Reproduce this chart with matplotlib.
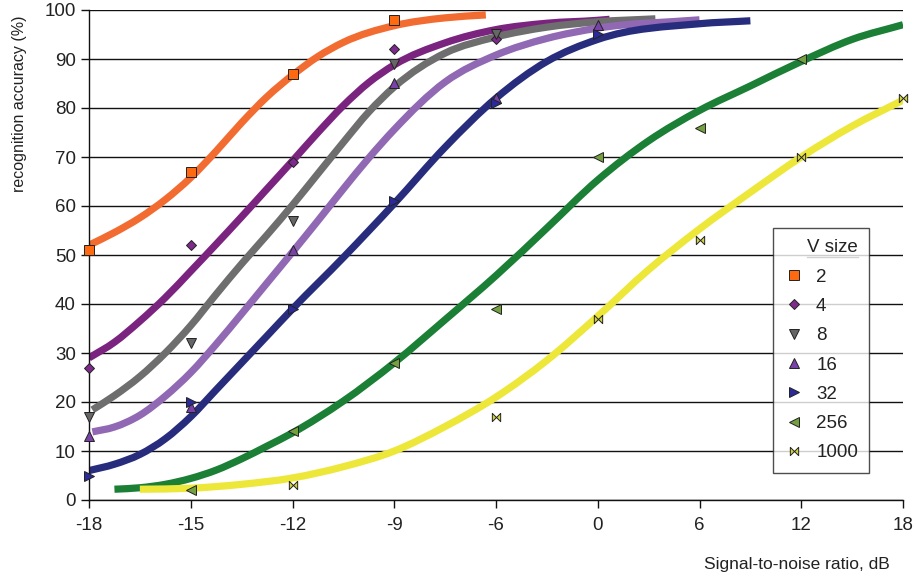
import numpy as np
import matplotlib.pyplot as plt
from matplotlib.path import Path
from matplotlib.patches import PathPatch

plt.rcParams['font.family'] = ['Liberation Sans', 'DejaVu Sans']

# x axis: equally spaced categories with uneven dB steps
snr_ticks = [-18, -15, -12, -9, -6, 0, 6, 12, 18]
tick_labels = ['-18', '-15', '-12', '-9', '-6', '0', '6', '12', '18']
tick_pos = list(range(len(snr_ticks)))

v_sizes = ['2', '4', '8', '16', '32', '256', '1000']

# measured points
snr_v2 = [-18, -15, -12, -9]
acc_v2 = [51, 67, 87, 98]
snr_v4 = [-18, -15, -12, -9, -6]
acc_v4 = [27, 52, 69, 92, 94]
snr_v8 = [-18, -15, -12, -9, -6]
acc_v8 = [17, 32, 57, 89, 95]
snr_v16 = [-18, -15, -12, -9, -6, 0]
acc_v16 = [13, 19, 51, 85, 82, 97]
snr_v32 = [-18, -15, -12, -9, -6, 0]
acc_v32 = [5, 20, 39, 61, 81, 95]
snr_v256 = [-15, -12, -9, -6, 0, 6, 12]
acc_v256 = [2, 14, 28, 39, 70, 76, 90]
snr_v1000 = [-12, -6, 0, 6, 12, 18]
acc_v1000 = [3, 17, 37, 53, 70, 82]

# fitted curves
fit_x_v2 = [-18, -17.25, -16.5, -15.75, -15, -14.25, -13.5, -12.75, -12, -11.25, -10.5, -9, -7.5, -6.3]
fit_y_v2 = [52, 54.6, 57.6, 61.3, 65.8, 71.2, 77, 82.3, 86.7, 90.5, 93.4, 96.8, 98.4, 99]
fit_x_v4 = [-18, -17.25, -16.5, -15.75, -15, -14.25, -13.5, -12.75, -12, -11.25, -10.5, -9.75, -9,
            -7.5, -6, -3, 0, 0.7]
fit_y_v4 = [29, 32.2, 36.5, 41.3, 46.7, 52.2, 57.8, 63.5, 69.2, 75, 80.5, 85.2, 88.8,
            93.3, 96, 97.3, 97.9, 98.1]
fit_x_v8 = [-17.9, -17.25, -16.5, -15.75, -15, -14.25, -13.5, -12.75, -12, -11.25, -10.5, -9.75, -9,
            -7.5, -6, -3, 0, 3.4]
fit_y_v8 = [18.4, 21.3, 25.2, 30, 35.6, 42, 48.2, 54.1, 60.2, 66.6, 73, 79.2, 84.3,
            91.2, 94.5, 96.5, 97.6, 98.2]
fit_x_v16 = [-17.9, -17.25, -16.5, -15.75, -15, -14.25, -13.5, -12.75, -12, -11.25, -10.5, -9.75, -9,
             -7.5, -6, -3, 0, 6]
fit_y_v16 = [13.9, 14.9, 17.3, 21.2, 26, 31.8, 38, 44.3, 50.6, 57, 63.5, 69.8, 75.6,
             85.3, 90.8, 94.2, 96.3, 98]
fit_x_v32 = [-18, -17.25, -16.5, -15.75, -15, -14.25, -13.5, -12.75, -12, -10.5, -9,
             -7.5, -6, -3, 0, 6, 9]
fit_y_v32 = [6, 7.3, 9.3, 12.5, 17, 22.5, 28, 33.5, 39, 49.5, 60.5,
             72, 82, 89.5, 94, 97.2, 97.8]
fit_x_v256 = [-17.25, -16.5, -15.75, -15, -14.25, -13.5, -12.75, -12, -10.5, -9, -7.5, -6,
              -3, 0, 3, 6, 9, 12, 15, 18]
fit_y_v256 = [2.2, 2.5, 3.2, 4.4, 6.1, 8.4, 11, 13.7, 20.2, 28, 36.8, 45.8,
              55.5, 65.3, 73.3, 79.5, 84.5, 89.5, 94, 97]
fit_x_v1000 = [-16.5, -15, -13.5, -12, -10.5, -9, -7.5, -6, -3, 0, 3, 6, 9, 12, 15, 18]
fit_y_v1000 = [2.2, 2.4, 3.2, 4.5, 6.8, 10, 15, 21, 28.5, 37.5, 47, 55.3, 62.8, 70, 76.3, 81.6]

# bow-tie marker
bowtie = Path([(-1, -1), (0, 0), (-1, 1), (-1, -1), (1, -1), (0, 0), (1, 1), (1, -1)],
              [Path.MOVETO, Path.LINETO, Path.LINETO, Path.CLOSEPOLY,
               Path.MOVETO, Path.LINETO, Path.LINETO, Path.CLOSEPOLY])

series = [
    (snr_v2, acc_v2, fit_x_v2, fit_y_v2, '#F26B30', '#FF6A10', 's', 6.5),
    (snr_v4, acc_v4, fit_x_v4, fit_y_v4, '#7A2480', '#7E2A8C', 'D', 5),
    (snr_v8, acc_v8, fit_x_v8, fit_y_v8, '#6E6E6E', '#666666', 'v', 7),
    (snr_v16, acc_v16, fit_x_v16, fit_y_v16, '#9068B4', '#7A42A8', '^', 7),
    (snr_v32, acc_v32, fit_x_v32, fit_y_v32, '#282C7C', '#2A2A98', '>', 7),
    (snr_v256, acc_v256, fit_x_v256, fit_y_v256, '#1B7F35', '#74A040', '<', 7),
    (snr_v1000, acc_v1000, fit_x_v1000, fit_y_v1000, '#EDE73A', '#D2D23A', bowtie, 6),
]


def fwd(x):
    return np.interp(x, snr_ticks, tick_pos)


def inv(p):
    return np.interp(p, tick_pos, snr_ticks)


def smooth_path(xs, ys):
    # smoothed line like Excel's: cubic Bezier segments through the read points,
    # built in category-position space and mapped back to dB
    x = fwd(np.asarray(xs, float))
    y = np.asarray(ys, float)
    h = np.diff(x)
    d = np.diff(y) / h
    m = np.empty_like(y)
    m[0], m[-1] = d[0], d[-1]
    m[1:-1] = (d[:-1] * h[1:] + d[1:] * h[:-1]) / (h[:-1] + h[1:])
    verts = [(x[0], y[0])]
    codes = [Path.MOVETO]
    for i in range(len(x) - 1):
        verts += [(x[i] + h[i] / 3, y[i] + m[i] * h[i] / 3),
                  (x[i + 1] - h[i] / 3, y[i + 1] - m[i + 1] * h[i] / 3),
                  (x[i + 1], y[i + 1])]
        codes += [Path.CURVE4] * 3
    verts = np.array(verts)
    verts[:, 0] = inv(verts[:, 0])
    return Path(verts, codes)


fig = plt.figure(figsize=(9.16, 5.77), dpi=100)
ax = fig.add_axes([89 / 916, 1 - 500 / 577, 814 / 916, 490 / 577])
ax.set_xscale('function', functions=(fwd, inv))

for sx, sy, fx, fy, lc, mc, mk, ms in series:
    ax.add_patch(PathPatch(smooth_path(fx, fy), fill=False, edgecolor=lc, lw=5.2,
                           capstyle='butt', zorder=2))

handles = []
for (sx, sy, fx, fy, lc, mc, mk, ms), name in zip(series, v_sizes):
    h, = ax.plot(sx, sy, ls='none', marker=mk, ms=ms, mfc=mc, mec='#222222',
                 mew=0.7, zorder=4, clip_on=False, label=name)
    handles.append(h)

ax.set_xlim(-18, 18)
ax.set_ylim(0, 100)
ax.set_xticks(snr_ticks)
ax.set_xticklabels(tick_labels)
ax.set_yticks(range(0, 101, 10))
ax.yaxis.grid(True, color='#111111', lw=1.0)
ax.set_axisbelow(True)
for s in ['top', 'right']:
    ax.spines[s].set_visible(False)
for s in ['left', 'bottom']:
    ax.spines[s].set_color('#111111')
    ax.spines[s].set_linewidth(1.0)
ax.tick_params(axis='both', direction='out', length=6, width=1.0, color='#111111',
               labelsize=13.5, labelcolor='#222222')
ax.tick_params(axis='x', pad=6)

ax.set_ylabel('recognition accuracy (%)', fontsize=11.5, color='#222222')
ax.yaxis.set_label_coords(-0.076, 0.808)
fig.text(797 / 916, 1 - 565 / 577, 'Signal-to-noise ratio, dB', fontsize=12.5,
         color='#222222', ha='center', va='center')

leg = fig.legend(handles=handles, title='V size', loc='upper left',
                 bbox_to_anchor=(773 / 916, 1 - 228 / 577), borderaxespad=0,
                 frameon=True, fancybox=False, edgecolor='#222222', fontsize=13.5,
                 title_fontsize=13.5, handlelength=1.0, handletextpad=0.7,
                 labelspacing=0.65, borderpad=0.6, alignment='right')
leg.get_frame().set_linewidth(1.0)
for t in leg.get_texts():
    t.set_color('#222222')
leg.get_title().set_color('#222222')

# underline for the legend title
fig.canvas.draw()
bb = leg.get_title().get_window_extent().transformed(fig.transFigure.inverted())
fig.add_artist(plt.Line2D([bb.x0, bb.x1], [bb.y0 - 0.002, bb.y0 - 0.002],
                          transform=fig.transFigure, color='#222222', lw=1.0))

fig.savefig('out.png', dpi=100)
